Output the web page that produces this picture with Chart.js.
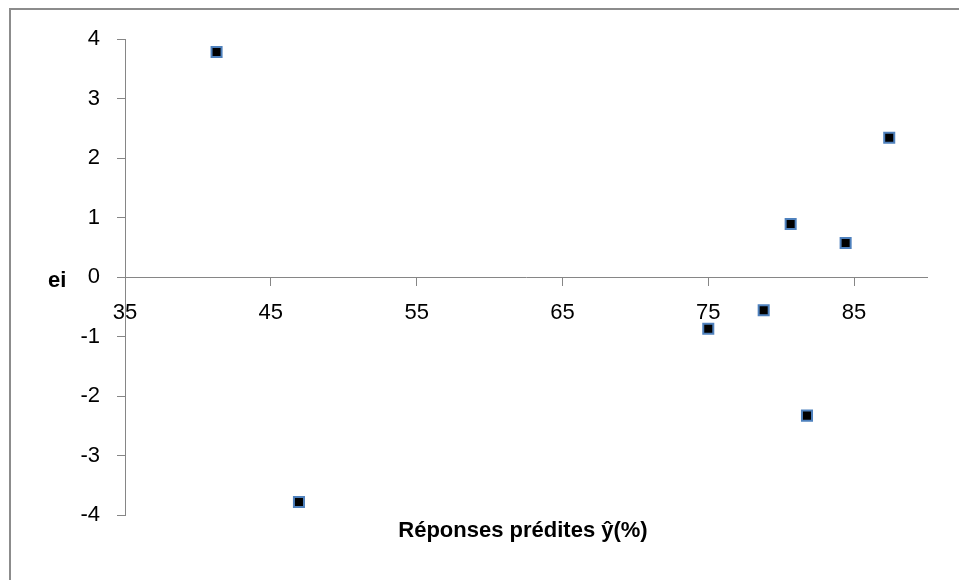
<!DOCTYPE html>
<html>
<head>
<meta charset="utf-8">
<script src="https://cdn.jsdelivr.net/npm/chart.js@4/dist/chart.umd.min.js"></script>
<style>
  html, body { margin: 0; padding: 0; background: #ffffff; }
  #wrap { width: 959px; height: 580px; }
</style>
</head>
<body>
<div id="wrap"><canvas id="c" width="959" height="580"></canvas></div>
<script>
// Residuals e_i against the predicted responses ŷ (%)
const predicted = [41.28, 46.93, 75.0, 78.8, 80.65, 81.77, 84.42, 87.41];
const residuals = [3.78, -3.78, -0.87, -0.56, 0.89, -2.33, 0.57, 2.34];
const xTicks = [35, 45, 55, 65, 75, 85];
const yTicks = [-4, -3, -2, -1, 0, 1, 2, 3, 4];
const xTitle = 'Réponses prédites ŷ(%)';
const yTitle = 'ei';

const points = predicted.map((x, i) => ({ x: x, y: residuals[i] }));
const FONT = '"Liberation Sans", Arial, sans-serif';
const AXIS_GREY = '#868686';

// Frame lines and the two axis titles drawn beside the axes
const decor = {
  id: 'decor',
  beforeDraw(chart) {
    const ctx = chart.ctx;
    ctx.save();
    ctx.strokeStyle = '#8c8c8c';
    ctx.lineWidth = 2;
    ctx.beginPath();
    ctx.moveTo(10, chart.height);
    ctx.lineTo(10, 9);
    ctx.lineTo(chart.width, 9);
    ctx.stroke();
    ctx.restore();
  },
  afterDraw(chart) {
    const ctx = chart.ctx;
    const area = chart.chartArea;
    const y0 = chart.scales.y.getPixelForValue(0);
    ctx.save();
    ctx.fillStyle = '#000000';
    ctx.font = 'bold 22px ' + FONT;
    ctx.textBaseline = 'alphabetic';
    ctx.textAlign = 'left';
    ctx.fillText(yTitle, 48, y0 + 10);
    ctx.textAlign = 'center';
    ctx.fillText(xTitle, (area.left + area.right) / 2 - 3, area.bottom + 22);
    ctx.restore();
  }
};

new Chart(document.getElementById('c'), {
  type: 'scatter',
  data: {
    datasets: [{
      data: points,
      pointStyle: 'rect',
      pointRadius: 7.1,
      pointHoverRadius: 7.1,
      pointBackgroundColor: '#000000',
      pointBorderColor: '#4F81BD',
      pointBorderWidth: 2,
      showLine: false
    }]
  },
  options: {
    responsive: false,
    animation: false,
    devicePixelRatio: 1,
    layout: { padding: { left: 0, top: 39, right: 32, bottom: 65 } },
    plugins: {
      legend: { display: false },
      tooltip: { enabled: false },
      title: { display: false }
    },
    scales: {
      x: {
        type: 'linear',
        position: { y: 0 },
        min: 35,
        max: 90,
        afterBuildTicks(scale) {
          scale.ticks = xTicks.map(v => ({ value: v }));
        },
        grid: {
          drawOnChartArea: false,
          drawTicks: true,
          tickLength: 8,
          color: AXIS_GREY
        },
        border: { display: true, color: AXIS_GREY, width: 1 },
        ticks: {
          padding: 15,
          color: '#000000',
          font: { family: FONT, size: 22 },
          maxRotation: 0,
          callback: v => String(v)
        }
      },
      y: {
        type: 'linear',
        position: 'left',
        min: -4,
        max: 4,
        afterBuildTicks(scale) {
          scale.ticks = yTicks.map(v => ({ value: v }));
        },
        afterFit(scale) { scale.width = 125; },
        grid: {
          drawOnChartArea: false,
          drawTicks: true,
          tickLength: 8,
          color: AXIS_GREY
        },
        border: { display: true, color: AXIS_GREY, width: 1 },
        ticks: {
          padding: 17,
          color: '#000000',
          font: { family: FONT, size: 22 },
          callback: v => String(v)
        }
      }
    }
  },
  plugins: [decor]
});
</script>
</body>
</html>
